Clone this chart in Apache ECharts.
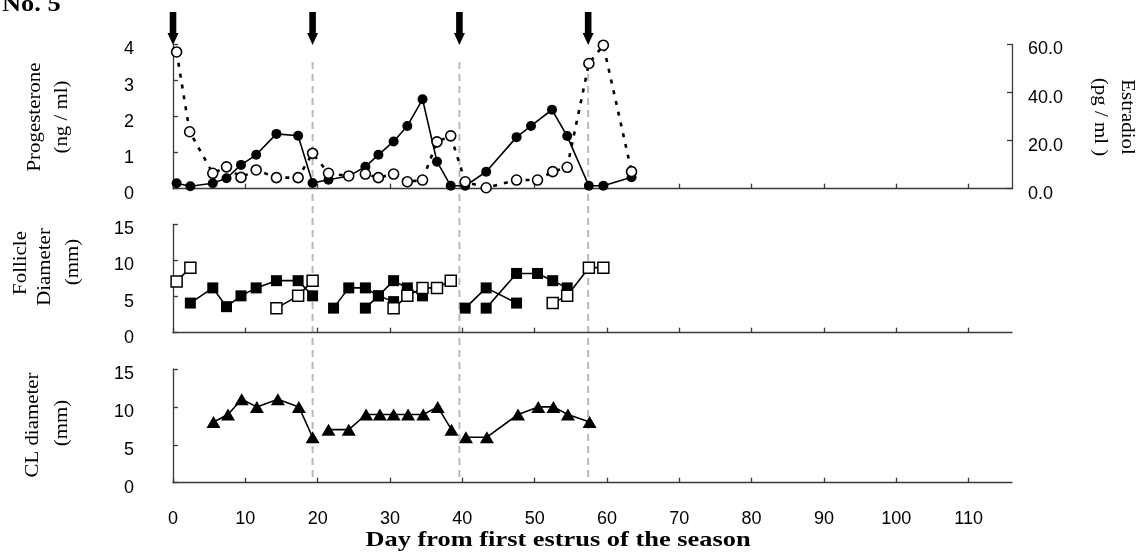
<!DOCTYPE html>
<html>
<head>
<meta charset="utf-8">
<script src="https://cdn.jsdelivr.net/npm/echarts@6/dist/echarts.min.js"></script>
<style>
  html, body { margin: 0; padding: 0; background: #fff; }
  #chart { width: 1143px; height: 556px; }
</style>
</head>
<body>
<div id="chart"></div>
<script>
// Day axis ticks (shared by all three panels)
const dayTicks = [0, 10, 20, 30, 40, 50, 60, 70, 80, 90, 100, 110];
const dayMax = 116;

// Days of estrus: arrows on all, dashed guide lines after the first
const estrusDays = [0, 19.3, 39.6, 57.4];

// Plasma progesterone, ng/ml  [day, value]
const progesterone = [
  [0.5, 0.15], [2.4, 0.07], [5.5, 0.15], [7.4, 0.29], [9.4, 0.66], [11.5, 0.94],
  [14.3, 1.52], [17.3, 1.47], [19.3, 0.16], [21.5, 0.25], [24.3, 0.35], [26.6, 0.61],
  [28.4, 0.94], [30.5, 1.31], [32.4, 1.74], [34.5, 2.48], [36.5, 0.75], [38.4, 0.08],
  [40.4, 0.08], [43.3, 0.47], [47.5, 1.43], [49.5, 1.74], [52.4, 2.19], [54.5, 1.46],
  [57.5, 0.08], [59.5, 0.08], [63.4, 0.32]
];

// Plasma estradiol, pg/ml  [day, value]
const estradiol = [
  [0.5, 56.9], [2.3, 23.7], [5.5, 6.4], [7.4, 9.1], [9.4, 4.7], [11.5, 7.8],
  [14.3, 4.6], [17.3, 4.6], [19.3, 14.7], [21.5, 6.4], [24.3, 5.3], [26.6, 6.1],
  [28.4, 4.6], [30.5, 6.1], [32.4, 2.9], [34.5, 3.6], [36.5, 19.5], [38.4, 22.0],
  [40.4, 2.9], [43.3, 0.4], [47.5, 3.6], [50.4, 3.6], [52.5, 7.1], [54.5, 8.9],
  [57.5, 52.1], [59.5, 59.7], [63.4, 7.1]
];

// Follicle diameters (mm), one array per tracked follicle
const follicleA = [[0.5, 7.1], [2.4, 9.0]];                                   // open
const follicleB = [[2.4, 4.1], [5.5, 6.2], [7.4, 3.6], [9.4, 5.1], [11.5, 6.2],
                   [14.3, 7.2], [17.3, 7.2], [19.3, 5.1]];                     // filled
const follicleC = [[14.3, 3.4], [17.3, 5.1], [19.3, 7.2]];                    // open
const follicleD = [[22.2, 3.4], [24.3, 6.2], [26.6, 6.2], [28.4, 5.1], [30.5, 4.3]]; // filled
const follicleE = [[26.6, 3.4], [28.4, 5.1], [30.5, 7.2], [32.4, 6.2], [34.5, 5.1]]; // filled
const follicleF = [[30.5, 3.4], [32.4, 5.1], [34.5, 6.2], [36.5, 6.2], [38.4, 7.2]]; // open
const follicleG = [[40.4, 3.4], [43.3, 6.2], [47.5, 4.1]];                    // filled
const follicleH = [[43.3, 3.4], [47.5, 8.2], [50.4, 8.2], [52.5, 7.2], [54.5, 6.2]]; // filled
const follicleI = [[52.5, 4.1], [54.5, 5.1], [57.5, 9.0], [59.5, 9.0]];       // open

// Corpus luteum diameters (mm), one array per CL
const clFirst  = [[5.6, 8], [7.6, 9], [9.5, 11], [11.6, 10], [14.5, 11], [17.4, 10], [19.3, 6]];
const clSecond = [[21.5, 7], [24.3, 7], [26.7, 9], [28.6, 9], [30.5, 9], [32.5, 9], [34.6, 9],
                  [36.6, 10], [38.5, 7]];
const clThird  = [[40.5, 6], [43.4, 6], [47.7, 9], [50.5, 10], [52.6, 10], [54.6, 9], [57.6, 8]];

const AXIS_COLOR = '#3a3a3a';
const SANS = '"Liberation Sans", Arial, sans-serif';
const SERIF = '"Liberation Serif", "Times New Roman", serif';

const chart = echarts.init(document.getElementById('chart'), null, { renderer: 'canvas' });

const grids = [
  { left: 173, right: 131, top: 44.5, height: 144.2 },
  { left: 173, right: 131, top: 224.3, height: 108.4 },
  { left: 173, right: 131, top: 369, height: 113.7 }
];

function xAxisFor(i, showLabels) {
  return {
    type: 'value', gridIndex: i, min: 0, max: dayMax, interval: 10,
    axisLine: { show: true, lineStyle: { color: AXIS_COLOR, width: 1.3 } },
    axisTick: { show: true, inside: true, length: 5, customValues: dayTicks,
                lineStyle: { color: AXIS_COLOR, width: 1.3 } },
    axisLabel: { show: showLabels, customValues: dayTicks, margin: 27,
                 color: '#000', fontFamily: SANS, fontSize: 18 },
    splitLine: { show: false }
  };
}

function yAxisFor(i, max, interval, position, margin, fmt) {
  return {
    type: 'value', gridIndex: i, min: 0, max: max, interval: interval, position: position,
    axisLine: { show: true, onZero: false, lineStyle: { color: AXIS_COLOR, width: 1.3 } },
    axisTick: { show: true, inside: true, length: 5, lineStyle: { color: AXIS_COLOR, width: 1.3 } },
    axisLabel: { color: '#000', fontFamily: SANS, fontSize: 18, margin: margin,
                 verticalAlign: 'top', lineHeight: 10, formatter: fmt },
    splitLine: { show: false }
  };
}

function lineSeries(data, xi, yi, opts) {
  return Object.assign({
    type: 'line', xAxisIndex: xi, yAxisIndex: yi, data: data,
    showSymbol: true, showAllSymbol: true, connectNulls: false,
    silent: true, animation: false, emphasis: { disabled: true },
    lineStyle: { color: '#000', width: 1.6 }
  }, opts);
}

const filledCircle = { symbol: 'circle', symbolSize: 10, itemStyle: { color: '#000', borderWidth: 0 } };
const openCircle = { symbol: 'circle', symbolSize: 10,
  itemStyle: { color: '#fff', borderColor: '#000', borderWidth: 1.6 },
  lineStyle: { color: '#000', width: 2.6, type: [4, 7] } };
const filledSquare = { symbol: 'rect', symbolSize: 11, itemStyle: { color: '#000', borderWidth: 0 } };
const openSquare = { symbol: 'rect', symbolSize: 11,
  itemStyle: { color: '#fff', borderColor: '#000', borderWidth: 1.5 } };
const triangle = { symbol: 'triangle', symbolSize: [14, 12], itemStyle: { color: '#000', borderWidth: 0 } };

const option = {
  animation: false,
  backgroundColor: '#fff',
  grid: grids,
  xAxis: [xAxisFor(0, false), xAxisFor(1, false), xAxisFor(2, true)],
  yAxis: [
    yAxisFor(0, 60, 20, 'right', 16, v => v.toFixed(1)),
    yAxisFor(0, 4, 1, 'left', 39),
    yAxisFor(1, 15, 5, 'left', 39),
    yAxisFor(2, 15, 5, 'left', 39)
  ],
  series: [
    lineSeries(progesterone, 0, 1, filledCircle),
    lineSeries(estradiol, 0, 0, openCircle),
    lineSeries(follicleA, 1, 2, openSquare),
    lineSeries(follicleB, 1, 2, filledSquare),
    lineSeries(follicleC, 1, 2, openSquare),
    lineSeries(follicleD, 1, 2, filledSquare),
    lineSeries(follicleE, 1, 2, filledSquare),
    lineSeries(follicleF, 1, 2, openSquare),
    lineSeries(follicleG, 1, 2, filledSquare),
    lineSeries(follicleH, 1, 2, filledSquare),
    lineSeries(follicleI, 1, 2, openSquare),
    lineSeries(clFirst, 2, 3, triangle),
    lineSeries(clSecond, 2, 3, triangle),
    lineSeries(clThird, 2, 3, triangle)
  ]
};

chart.setOption(option);

// Overlay: estrus arrows, dashed guides and axis titles
function axisTitle(text, x, y, rot) {
  return {
    type: 'text', x: x, y: y, rotation: rot, scaleX: 1.16, silent: true, z: 10,
    style: { text: text, font: '18px ' + SERIF, fill: '#000',
             align: 'center', verticalAlign: 'middle',
             textAlign: 'center', textVerticalAlign: 'middle' }
  };
}

const overlay = [];
estrusDays.forEach((d, i) => {
  const x = chart.convertToPixel({ xAxisIndex: 0 }, d);
  if (i > 0) {
    overlay.push({
      type: 'line', silent: true, z: 0,
      shape: { x1: x, y1: 62, x2: x, y2: 478 },
      style: { stroke: '#b9b9b9', lineWidth: 2, lineDash: [7, 5] }
    });
  }
  overlay.push({
    type: 'polygon', silent: true, z: 10,
    shape: { points: [[x - 3.3, 12], [x + 3.3, 12], [x + 3.3, 33], [x + 5.5, 33],
                      [x, 45], [x - 5.5, 33], [x - 3.3, 33]] },
    style: { fill: '#000' }
  });
});

const up = Math.PI / 2, down = -Math.PI / 2;
overlay.push(
  axisTitle('Progesterone', 35, 117, up),
  axisTitle('(ng / ml)', 62.5, 117, up),
  axisTitle('Estradiol', 1127, 117, down),
  axisTitle('(pg / ml )', 1100, 117, down),
  axisTitle('Follicle', 21, 263, up),
  axisTitle('Diameter', 45, 267, up),
  axisTitle('(mm)', 73, 262, up),
  axisTitle('CL diameter', 33, 425, up),
  axisTitle('(mm)', 62.5, 423, up),
  {
    type: 'text', x: 558, y: 540, scaleX: 1.2, silent: true, z: 10,
    style: { text: 'Day from first estrus of the season', font: 'bold 22px ' + SERIF, fill: '#000',
             align: 'center', verticalAlign: 'middle', textAlign: 'center', textVerticalAlign: 'middle' }
  },
  {
    type: 'text', x: 2, y: 17, scaleX: 1.1, silent: true, z: 10,
    style: { text: 'No. 5', font: 'bold 24px ' + SERIF, fill: '#000',
             align: 'left', verticalAlign: 'bottom', textAlign: 'left', textVerticalAlign: 'bottom' }
  }
);

chart.setOption({ graphic: overlay });
</script>
</body>
</html>
